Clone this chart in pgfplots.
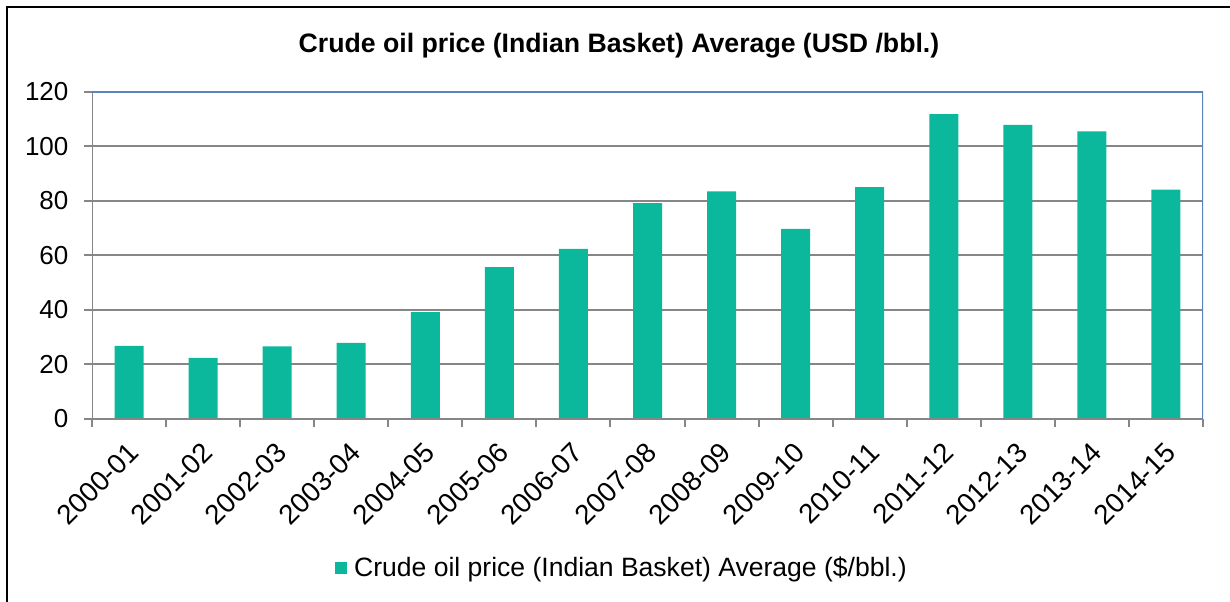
\documentclass[border=0pt]{standalone}
\usepackage{pgfplots}
\pgfplotsset{compat=1.18}
\usepackage{fontspec}
\setmainfont{Liberation Sans}
\definecolor{barc}{HTML}{0BB89C}
\definecolor{gridg}{HTML}{868686}
\definecolor{frameblue}{HTML}{5B83BE}
\begin{document}
\begin{tikzpicture}[x=0.75pt,y=0.75pt]
\useasboundingbox (0,0) rectangle (1230,602);
\draw[line width=1.5pt] (7,0) -- (7,595) -- (1230,595);
\node[font=\fontsize{20}{24}\selectfont\bfseries, anchor=base, inner sep=0pt] at (619,549) {Crude oil price (Indian Basket) Average (USD /bbl.)};
\begin{axis}[
  at={(69pt,137.25pt)}, anchor=south west,
  scale only axis, width=833.25pt, height=245.25pt,
  xmin=-0.5, xmax=14.5, ymin=0, ymax=120,
  ytick={0,20,...,120},
  xtick={0,...,14},
  xticklabels={2000-01,2001-02,2002-03,2003-04,2004-05,2005-06,2006-07,2007-08,2008-09,2009-10,2010-11,2011-12,2012-13,2013-14,2014-15},
  major x tick style={draw=none},
  minor xtick={-0.5,0.5,...,14.5},
  tick align=outside,
  major tick length=6pt, minor tick length=6pt,
  tick style={gridg, line width=1.5pt},
  ytick pos=left, xtick pos=bottom,
  ymajorgrids, grid style={gridg, line width=1.5pt},
  axis line style={draw=none},
  /pgf/number format/assume math mode=true,
  ticklabel style={font=\fontsize{19.5}{23}\selectfont},
  xticklabel style={font=\fontsize{20.8}{24}\selectfont, rotate=45, anchor=east, inner sep=2pt, yshift=-13.5pt, xshift=-6.5pt},
  yticklabel style={inner sep=2pt, xshift=-9.5pt},
  ybar, bar width=21.75pt,
  legend style={at={(axis description cs:0.479,-0.455)}, anchor=center, draw=none, font=\fontsize{19.9}{24}\selectfont, inner sep=0pt, nodes={inner xsep=5pt}},
  legend image code/.code={\fill[barc] (0pt,-4.7pt) rectangle (9.4pt,4.7pt);},
]
\addplot[fill=barc, draw=none] coordinates {
(0,26.8) (1,22.45) (2,26.65) (3,27.97) (4,39.21) (5,55.72) (6,62.46) (7,79.25) (8,83.57) (9,69.76) (10,85.09) (11,111.89) (12,107.97) (13,105.52) (14,84.2)
};
\addlegendentry{Crude oil price (Indian Basket) Average (\$/bbl.)}
\draw[gridg, line width=1.5pt] (rel axis cs:0,1) -- (rel axis cs:0,0) -- (rel axis cs:1,0);
\draw[frameblue, line width=1.5pt] (rel axis cs:0,1) -- (rel axis cs:1,1) -- (rel axis cs:1,0);
\end{axis}
\end{tikzpicture}
\end{document}
